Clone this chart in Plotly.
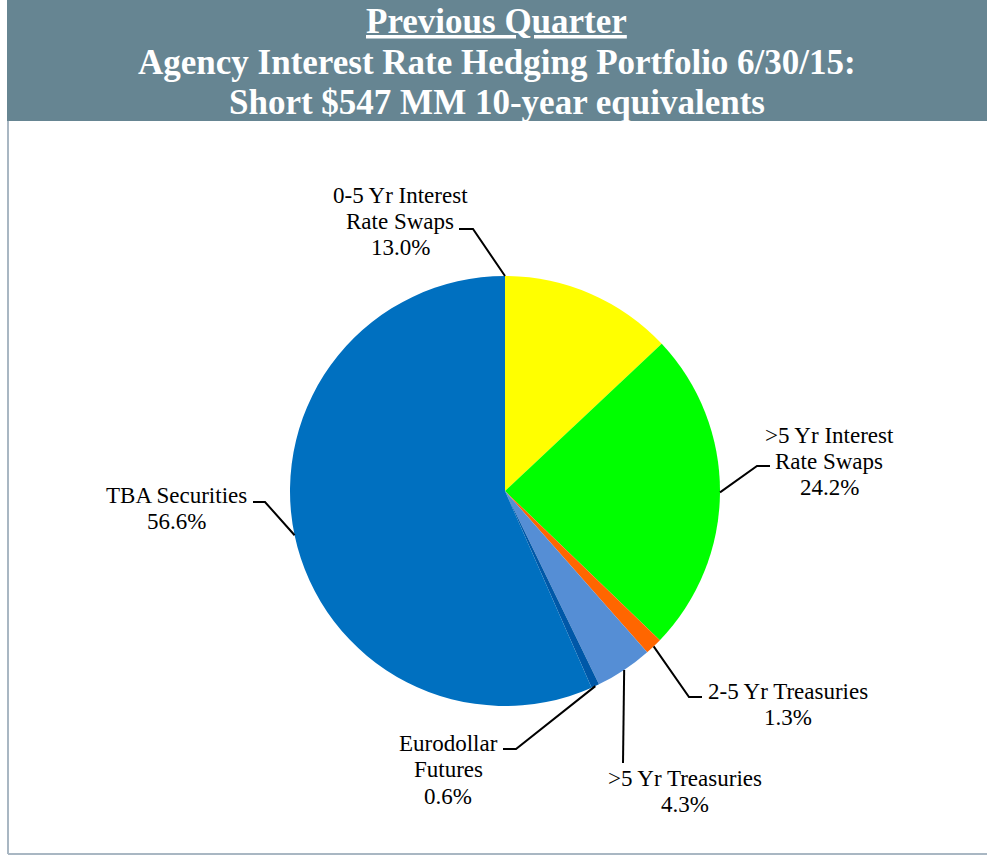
import math
import plotly.graph_objects as go

# ---------------- data ----------------
slice_names = ["0-5 Yr Interest Rate Swaps", ">5 Yr Interest Rate Swaps", "2-5 Yr Treasuries",
               ">5 Yr Treasuries", "Eurodollar Futures", "TBA Securities"]
slice_values = [13.0, 24.2, 1.3, 4.3, 0.6, 56.6]
label_lines = [["0-5 Yr Interest", "Rate Swaps"], [">5 Yr Interest", "Rate Swaps"], ["2-5 Yr Treasuries"],
               [">5 Yr Treasuries"], ["Eurodollar", "Futures"], ["TBA Securities"]]
title_lines = ["<u>Previous Quarter</u>", "Agency Interest Rate Hedging Portfolio 6/30/15:",
               "Short $547 MM 10-year equivalents"]

# ---------------- styles / layout ----------------
slice_colors = ["#FFFF00", "#00FF00", "#FF6600", "#558ED5", "#0058A8", "#0070C0"]
W, H = 987, 856
CX, CY, R = 505, 491, 215
SERIF = "Liberation Serif"
LABEL_SIZE = 23
LINE_H = 26.5
# first-line centre of each label (px) and leader elbow points (px)
label_pos = [(400, 195), (829, 435), (788, 691), (685, 778), (448, 743), (176, 495)]
leader_elbows = [[(459, 229), (473, 229)], [(770, 466), (757, 466)], [(702, 697), (689, 697)],
                 [(623, 763)], [(503, 749), (516, 749)], [(253, 502), (265, 502)]]
anchor_mode = ["start", "mid", "mid", "mid", "mid", "mid"]


def px(x):
    return x / W


def py(y):
    return 1 - y / H


fig = go.Figure()
fig.add_trace(go.Pie(
    labels=slice_names, values=slice_values, sort=False, direction="clockwise", rotation=0,
    marker=dict(colors=slice_colors, line=dict(width=0)), textinfo="none",
    domain=dict(x=[px(CX - R), px(CX + R)], y=[py(CY + R), py(CY - R)]),
    showlegend=False,
))

shapes = []
annotations = []
# banner
shapes.append(dict(type="rect", xref="paper", yref="paper", x0=px(7), x1=1, y0=py(121), y1=1,
                   fillcolor="#668592", line=dict(width=0), layer="below"))
# frame lines
shapes.append(dict(type="line", xref="paper", yref="paper", x0=px(8), x1=px(8), y0=py(121), y1=py(854),
                   line=dict(color="#A9B7C3", width=2)))
shapes.append(dict(type="line", xref="paper", yref="paper", x0=px(8), x1=1, y0=py(854), y1=py(854),
                   line=dict(color="#A9B7C3", width=2)))

for i, t in enumerate(title_lines):
    annotations.append(dict(text=f"<b>{t}</b>", x=px(497), y=py(22 + 40.5 * i), xref="paper", yref="paper",
                            xanchor="center", yanchor="middle", showarrow=False,
                            font=dict(family=SERIF, size=35, color="white")))

total = sum(slice_values)
cum = 0.0
for i, v in enumerate(slice_values):
    start = cum / total * 360
    mid = (cum + v / 2) / total * 360
    cum += v
    ang = math.radians(start if anchor_mode[i] == "start" else mid)
    ax, ay = CX + R * math.sin(ang), CY - R * math.cos(ang)
    pts = leader_elbows[i] + [(ax, ay)]
    path = "M " + " L ".join(f"{px(x):.5f},{py(y):.5f}" for x, y in pts)
    shapes.append(dict(type="path", xref="paper", yref="paper", path=path,
                       line=dict(color="black", width=2)))
    lines = label_lines[i] + [f"{v:.1f}%"]
    lx, ly = label_pos[i]
    for j, ln in enumerate(lines):
        annotations.append(dict(text=ln, x=px(lx), y=py(ly + LINE_H * j), xref="paper", yref="paper",
                                xanchor="center", yanchor="middle", showarrow=False,
                                font=dict(family=SERIF, size=LABEL_SIZE, color="black")))

fig.update_layout(width=W, height=H, autosize=False, margin=dict(l=0, r=0, t=0, b=0),
                  paper_bgcolor="white", plot_bgcolor="white", shapes=shapes, annotations=annotations)
fig.write_html("out.html")
